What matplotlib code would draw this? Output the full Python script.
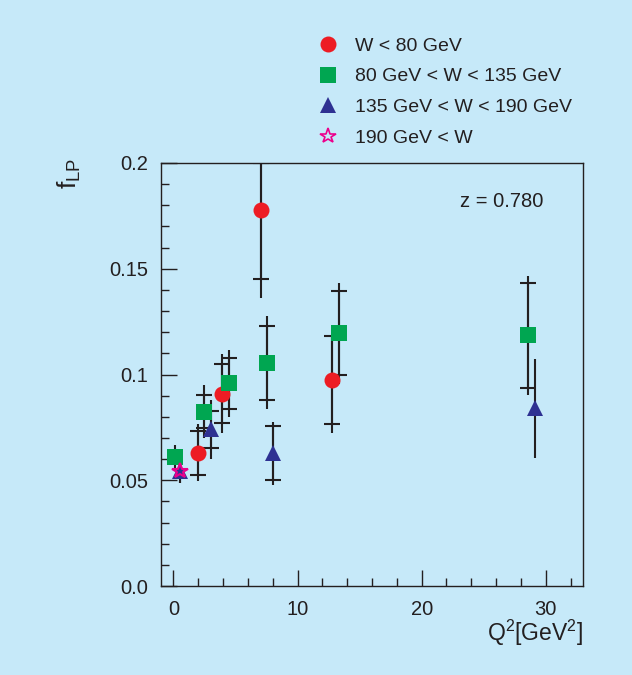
import matplotlib
matplotlib.use("Agg")
import matplotlib.pyplot as plt
from matplotlib.lines import Line2D
from matplotlib.ticker import MultipleLocator, FixedFormatter, FixedLocator

plt.rcParams['font.family'] = ['Liberation Sans', 'DejaVu Sans']
plt.rcParams['mathtext.fontset'] = 'custom'
plt.rcParams['mathtext.rm'] = 'Liberation Sans'
plt.rcParams['mathtext.it'] = 'Liberation Sans:italic'

# W < 80 GeV
red_x = [2.0, 3.95, 7.05, 12.8]
red_y = [0.063, 0.091, 0.178, 0.0975]
red_stat_lo = [0.0105, 0.0138, 0.033, 0.021]
red_stat_hi = [0.0105, 0.0138, 0.022, 0.0206]
red_tot_lo = [0.0135, 0.0188, 0.042, 0.025]
red_tot_hi = [0.0135, 0.0187, 0.03, 0.0206]

# 80 GeV < W < 135 GeV
green_x = [0.1, 2.5, 4.45, 7.5, 13.35, 28.6]
green_y = [0.0608, 0.0824, 0.0958, 0.1056, 0.1195, 0.1185]
green_stat = [0.0, 0.0078, 0.012, 0.0175, 0.0198, 0.0248]
green_tot = [0.006, 0.0126, 0.016, 0.022, 0.0238, 0.028]

# 135 GeV < W < 190 GeV
blue_x = [0.55, 3.05, 8.05, 29.1]
blue_y = [0.0545, 0.074, 0.0627, 0.084]
blue_stat = [0.0, 0.0089, 0.0128, 0.0]
blue_tot = [0.006, 0.0138, 0.0148, 0.0235]

# 190 GeV < W
star_x = [0.55]
star_y = [0.0545]
star_tot = [0.006]

labels = ["W < 80 GeV", "80 GeV < W < 135 GeV", "135 GeV < W < 190 GeV", "190 GeV < W"]
yticks = [0.0, 0.05, 0.1, 0.15, 0.2]
ytick_labels = ["0.0", "0.05", "0.1", "0.15", "0.2"]

bg = "#c6e9f9"
ink = "#231f20"
red, green, blue, pink = "#ed1c24", "#00a651", "#2e3192", "#ec008c"

fig = plt.figure(figsize=(6.32, 6.75), dpi=100, facecolor=bg)
ax = fig.add_axes([161/632, 1-586/675, (583-161)/632, (586-163)/675])
ax.set_facecolor(bg)

ms = 11.5
cap = 5.8


def draw(xs, ys, tlo, thi, slo, shi, marker, color, **mk):
    ax.errorbar(xs, ys, yerr=[tlo, thi], fmt='none', ecolor=ink, elinewidth=1.5, capsize=0, zorder=2)
    keep = [i for i in range(len(xs)) if slo[i] > 0 or shi[i] > 0]
    if keep:
        ax.errorbar([xs[i] for i in keep], [ys[i] for i in keep],
                    yerr=[[slo[i] for i in keep], [shi[i] for i in keep]],
                    fmt='none', ecolor=ink, elinewidth=1.5,
                    capsize=cap, capthick=1.5, zorder=2)
    ax.plot(xs, ys, linestyle='none', marker=marker, markersize=ms, color=color,
            zorder=3, **mk)


draw(red_x, red_y, red_tot_lo, red_tot_hi, red_stat_lo, red_stat_hi, 'o', red, markeredgewidth=0)
draw(green_x, green_y, green_tot, green_tot, green_stat, green_stat, 's', green, markeredgewidth=0)
draw(blue_x, blue_y, blue_tot, blue_tot, blue_stat, blue_stat, '^', blue, markeredgewidth=0)
draw(star_x, star_y, star_tot, star_tot, [0.0], [0.0], '*', pink,
     markerfacecolor='none', markeredgecolor=pink, markeredgewidth=1.5)

ax.set_xlim(-1, 33)
ax.set_ylim(0, 0.2)
ax.xaxis.set_major_locator(MultipleLocator(10))
ax.xaxis.set_minor_locator(MultipleLocator(2))
ax.yaxis.set_major_locator(FixedLocator(yticks))
ax.yaxis.set_major_formatter(FixedFormatter(ytick_labels))
ax.yaxis.set_minor_locator(MultipleLocator(0.01))
ax.tick_params(which='both', direction='in', colors=ink, labelsize=14.5, width=1.0)
ax.tick_params(which='major', length=11.5)
ax.tick_params(which='minor', length=5.8)
ax.tick_params(axis='y', pad=9)
ax.tick_params(axis='x', pad=10)
for s in ax.spines.values():
    s.set_color(ink)
    s.set_linewidth(1.0)

ax.text(23.05, 0.1816, "z = 0.780", fontsize=14.5, color=ink, va='center', ha='left')

fig.text(583/632, 1-633/675, r"Q$^2$[GeV$^2$]", fontsize=16.5, color=ink, ha='right', va='center')
fig.text(69/632, 1-173/675, r"f$_{\mathregular{LP}}$", fontsize=19, color=ink, rotation=90,
         ha='center', va='center')

handles = [
    Line2D([], [], linestyle='none', marker='o', markersize=ms, color=red, markeredgewidth=0),
    Line2D([], [], linestyle='none', marker='s', markersize=ms, color=green, markeredgewidth=0),
    Line2D([], [], linestyle='none', marker='^', markersize=ms, color=blue, markeredgewidth=0),
    Line2D([], [], linestyle='none', marker='*', markersize=ms, markerfacecolor='none',
           markeredgecolor=pink, markeredgewidth=1.2),
]
fig.legend(handles, labels, loc='upper left', bbox_to_anchor=(318.3/632, 1-37/675),
           frameon=False, fontsize=14, handlelength=1.0, handletextpad=0.89,
           labelspacing=0.68, borderpad=0, borderaxespad=0, labelcolor=ink)

fig.savefig("out.png", dpi=100, facecolor=bg)
